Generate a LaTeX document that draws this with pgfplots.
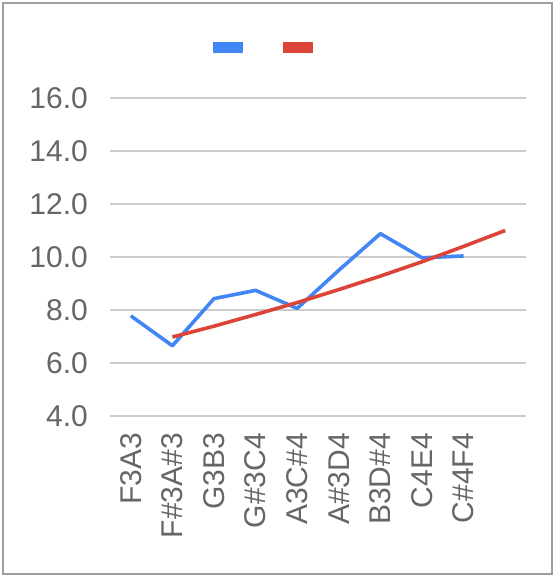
\documentclass[border=0pt]{standalone}
\usepackage{pgfplots}
\pgfplotsset{compat=1.18}
\usepackage{fontspec}
\setmainfont{Liberation Sans}
\definecolor{gblue}{HTML}{4285F4}
\definecolor{gred}{HTML}{DB4437}
\definecolor{tgray}{HTML}{666666}
\definecolor{ggrid}{HTML}{CCCCCC}
\definecolor{frame}{HTML}{9E9E9E}
\begin{document}
\begin{tikzpicture}
\useasboundingbox (-110pt,-161pt) rectangle (445pt,416pt);
\draw[frame, line width=2pt] (-107pt,-158pt) rectangle (442pt,413pt);
\begin{axis}[
  at={(0pt,0pt)}, anchor=south west,
  scale only axis, width=416pt, height=318pt,
  xmin=-0.5, xmax=9.5, ymin=4, ymax=16,
  xtick={0,...,8},
  xticklabels={F3A3,F\#3A\#3,G3B3,G\#3C4,A3C\#4,A\#3D4,B3D\#4,C4E4,C\#4F4},
  ytick={4,6,...,16},
  major tick length=0pt,
  axis line style={draw=none},
  ymajorgrids, grid style={ggrid, line width=1.6pt},
  /pgf/number format/assume math mode=true,
  yticklabel={\pgfmathprintnumber[fixed,fixed zerofill,precision=1]{\tick}},
  yticklabel style={font=\fontsize{30}{34}\selectfont, text=tgray, inner sep=0pt, xshift=-22pt},
  xticklabel style={font=\fontsize{30}{34}\selectfont, text=tgray, rotate=90, anchor=east, inner sep=0pt, xshift=-17pt},
  clip=false,
]
\addplot[gblue, line width=3.6pt, line join=round] coordinates {
 (0,7.78) (1,6.65) (2,8.43) (3,8.74) (4,8.06) (5,9.50) (6,10.88) (7,9.97) (8,10.04)};
\addplot[gred, line width=3.6pt] coordinates {
 (1,6.98) (2,7.39) (3,7.83) (4,8.28) (5,8.77) (6,9.28) (7,9.82) (8,10.40) (9,11.0)};
\end{axis}
\fill[gblue] (103pt,363pt) rectangle (133pt,374pt);
\fill[gred] (173pt,363pt) rectangle (203pt,374pt);
\end{tikzpicture}
\end{document}
